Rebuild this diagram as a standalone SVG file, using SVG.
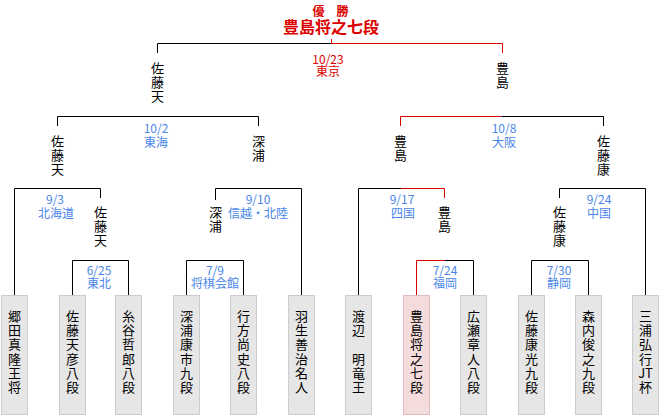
<svg xmlns="http://www.w3.org/2000/svg" width="660" height="415" viewBox="0 0 660 415">
<style>
text{font-family:"Noto Sans CJK JP","Noto Sans CJK SC",sans-serif;dominant-baseline:central;text-anchor:middle}
.n{font-size:13px;fill:#000}
.d{font-size:12px;fill:#4a86e8}
.dr{font-size:12px;fill:#dd0000}
.t1{font-size:12px;font-weight:bold;fill:#dd0000}
.t2{font-size:16px;font-weight:bold;fill:#dd0000}
.k{stroke:#000;stroke-width:1;fill:none}
.r{stroke:#dd0000;stroke-width:1;fill:none}
.box{fill:#e6e6e6;stroke:#cccccc;stroke-width:1}
.win{fill:#f4dcdc;stroke:#e2bcbc;stroke-width:1}
</style>
<rect width="660" height="415" fill="#fff"/>
<g id="connectors">
<path class="k" d="M157.5,53V43.5H331"/>
<path class="r" d="M331,43.5H502.5V53M331.5,39V43.5"/>
<path class="k" d="M57.5,126V116.5H258.5V126"/>
<path class="r" d="M400.5,126V116.5H501.5"/>
<path class="k" d="M501.5,116.5H603.5V126"/>
<path class="k" d="M14.5,295V188.5H100.5V198"/>
<path class="k" d="M215.5,200V188.5H301.5V295"/>
<path class="k" d="M358.5,295V188.5H401"/>
<path class="r" d="M401,188.5H444.5V198"/>
<path class="k" d="M559.5,198V188.5H645.5V295"/>
<path class="k" d="M72.5,295V260.5H128.5V295"/>
<path class="k" d="M186.5,295V260.5H243.5V295"/>
<path class="r" d="M416.5,295V260.5H445"/>
<path class="k" d="M445,260.5H473.5V295"/>
<path class="k" d="M531.5,295V260.5H588.5V295"/>
</g>
<g id="labels">
<text class="dr" x="328" y="58">10/23</text><text class="dr" x="328" y="70.5">東京</text>
<text class="d" x="156" y="127.5">10/2</text><text class="d" x="156" y="141">東海</text>
<text class="d" x="504" y="127.5">10/8</text><text class="d" x="504" y="141">大阪</text>
<text class="d" x="55" y="198.5">9/3</text><text class="d" x="56" y="212">北海道</text>
<text class="d" x="258" y="198.5">9/10</text><text class="d" x="258" y="212">信越・北陸</text>
<text class="d" x="402" y="198.5">9/17</text><text class="d" x="403" y="212">四国</text>
<text class="d" x="599" y="198.5">9/24</text><text class="d" x="599" y="212">中国</text>
<text class="d" x="99" y="269.5">6/25</text><text class="d" x="99" y="282">東北</text>
<text class="d" x="215" y="269.5">7/9</text><text class="d" x="215" y="282">将棋会館</text>
<text class="d" x="445" y="269.5">7/24</text><text class="d" x="445" y="282">福岡</text>
<text class="d" x="559" y="269.5">7/30</text><text class="d" x="559" y="282">静岡</text>
</g>
<g id="champion">
<text class="t1" x="330.5" y="10">優　勝</text>
<text class="t2" x="331" y="25.5">豊島将之七段</text>
</g>
<g id="r1-left"><text class="n"><tspan x="157.5" y="67">佐</tspan><tspan x="157.5" y="81">藤</tspan><tspan x="157.5" y="95">天</tspan></text></g>
<g id="r1-right"><text class="n"><tspan x="502.5" y="67">豊</tspan><tspan x="502.5" y="81">島</tspan></text></g>
<g id="r2-a"><text class="n"><tspan x="57.5" y="140">佐</tspan><tspan x="57.5" y="154">藤</tspan><tspan x="57.5" y="168">天</tspan></text></g>
<g id="r2-b"><text class="n"><tspan x="258.5" y="140">深</tspan><tspan x="258.5" y="154">浦</tspan></text></g>
<g id="r2-c"><text class="n"><tspan x="400.5" y="140">豊</tspan><tspan x="400.5" y="154">島</tspan></text></g>
<g id="r2-d"><text class="n"><tspan x="603.5" y="140">佐</tspan><tspan x="603.5" y="154">藤</tspan><tspan x="603.5" y="168">康</tspan></text></g>
<g id="r3-a"><text class="n"><tspan x="100.5" y="211">佐</tspan><tspan x="100.5" y="225">藤</tspan><tspan x="100.5" y="239">天</tspan></text></g>
<g id="r3-b"><text class="n"><tspan x="215.5" y="211">深</tspan><tspan x="215.5" y="225">浦</tspan></text></g>
<g id="r3-c"><text class="n"><tspan x="444.5" y="211">豊</tspan><tspan x="444.5" y="225">島</tspan></text></g>
<g id="r3-d"><text class="n"><tspan x="559.5" y="211">佐</tspan><tspan x="559.5" y="225">藤</tspan><tspan x="559.5" y="239">康</tspan></text></g>
<g id="p1"><rect class="box" x="1.5" y="295.5" width="26" height="119"/><text class="n"><tspan x="14.5" y="315">郷</tspan><tspan x="14.5" y="329.2">田</tspan><tspan x="14.5" y="343.4">真</tspan><tspan x="14.5" y="357.6">隆</tspan><tspan x="14.5" y="371.8">王</tspan><tspan x="14.5" y="386">将</tspan></text></g>
<g id="p2"><rect class="box" x="59.5" y="295.5" width="26" height="119"/><text class="n"><tspan x="72.5" y="315">佐</tspan><tspan x="72.5" y="329.2">藤</tspan><tspan x="72.5" y="343.4">天</tspan><tspan x="72.5" y="357.6">彦</tspan><tspan x="72.5" y="371.8">八</tspan><tspan x="72.5" y="386">段</tspan></text></g>
<g id="p3"><rect class="box" x="115.5" y="295.5" width="26" height="119"/><text class="n"><tspan x="128.5" y="315">糸</tspan><tspan x="128.5" y="329.2">谷</tspan><tspan x="128.5" y="343.4">哲</tspan><tspan x="128.5" y="357.6">郎</tspan><tspan x="128.5" y="371.8">八</tspan><tspan x="128.5" y="386">段</tspan></text></g>
<g id="p4"><rect class="box" x="173.5" y="295.5" width="26" height="119"/><text class="n"><tspan x="186.5" y="315">深</tspan><tspan x="186.5" y="329.2">浦</tspan><tspan x="186.5" y="343.4">康</tspan><tspan x="186.5" y="357.6">市</tspan><tspan x="186.5" y="371.8">九</tspan><tspan x="186.5" y="386">段</tspan></text></g>
<g id="p5"><rect class="box" x="230.5" y="295.5" width="26" height="119"/><text class="n"><tspan x="243.5" y="315">行</tspan><tspan x="243.5" y="329.2">方</tspan><tspan x="243.5" y="343.4">尚</tspan><tspan x="243.5" y="357.6">史</tspan><tspan x="243.5" y="371.8">八</tspan><tspan x="243.5" y="386">段</tspan></text></g>
<g id="p6"><rect class="box" x="288.5" y="295.5" width="26" height="119"/><text class="n"><tspan x="301.5" y="315">羽</tspan><tspan x="301.5" y="329.2">生</tspan><tspan x="301.5" y="343.4">善</tspan><tspan x="301.5" y="357.6">治</tspan><tspan x="301.5" y="371.8">名</tspan><tspan x="301.5" y="386">人</tspan></text></g>
<g id="p7"><rect class="box" x="345.5" y="295.5" width="26" height="119"/><text class="n"><tspan x="358.5" y="315">渡</tspan><tspan x="358.5" y="329.2">辺</tspan><tspan x="358.5" y="343.4">　</tspan><tspan x="358.5" y="357.6">明</tspan><tspan x="358.5" y="371.8">竜</tspan><tspan x="358.5" y="386">王</tspan></text></g>
<g id="p8"><rect class="win" x="403.5" y="295.5" width="26" height="119"/><text class="n"><tspan x="416.5" y="315">豊</tspan><tspan x="416.5" y="329.2">島</tspan><tspan x="416.5" y="343.4">将</tspan><tspan x="416.5" y="357.6">之</tspan><tspan x="416.5" y="371.8">七</tspan><tspan x="416.5" y="386">段</tspan></text></g>
<g id="p9"><rect class="box" x="460.5" y="295.5" width="26" height="119"/><text class="n"><tspan x="473.5" y="315">広</tspan><tspan x="473.5" y="329.2">瀬</tspan><tspan x="473.5" y="343.4">章</tspan><tspan x="473.5" y="357.6">人</tspan><tspan x="473.5" y="371.8">八</tspan><tspan x="473.5" y="386">段</tspan></text></g>
<g id="p10"><rect class="box" x="518.5" y="295.5" width="26" height="119"/><text class="n"><tspan x="531.5" y="315">佐</tspan><tspan x="531.5" y="329.2">藤</tspan><tspan x="531.5" y="343.4">康</tspan><tspan x="531.5" y="357.6">光</tspan><tspan x="531.5" y="371.8">九</tspan><tspan x="531.5" y="386">段</tspan></text></g>
<g id="p11"><rect class="box" x="575.5" y="295.5" width="26" height="119"/><text class="n"><tspan x="588.5" y="315">森</tspan><tspan x="588.5" y="329.2">内</tspan><tspan x="588.5" y="343.4">俊</tspan><tspan x="588.5" y="357.6">之</tspan><tspan x="588.5" y="371.8">九</tspan><tspan x="588.5" y="386">段</tspan></text></g>
<g id="p12"><rect class="box" x="632.5" y="295.5" width="26" height="119"/><text class="n"><tspan x="645.5" y="315">三</tspan><tspan x="645.5" y="329.2">浦</tspan><tspan x="645.5" y="343.4">弘</tspan><tspan x="645.5" y="357.6">行</tspan><tspan x="645.5" y="371.8">JT</tspan><tspan x="645.5" y="386">杯</tspan></text></g>
</svg>
